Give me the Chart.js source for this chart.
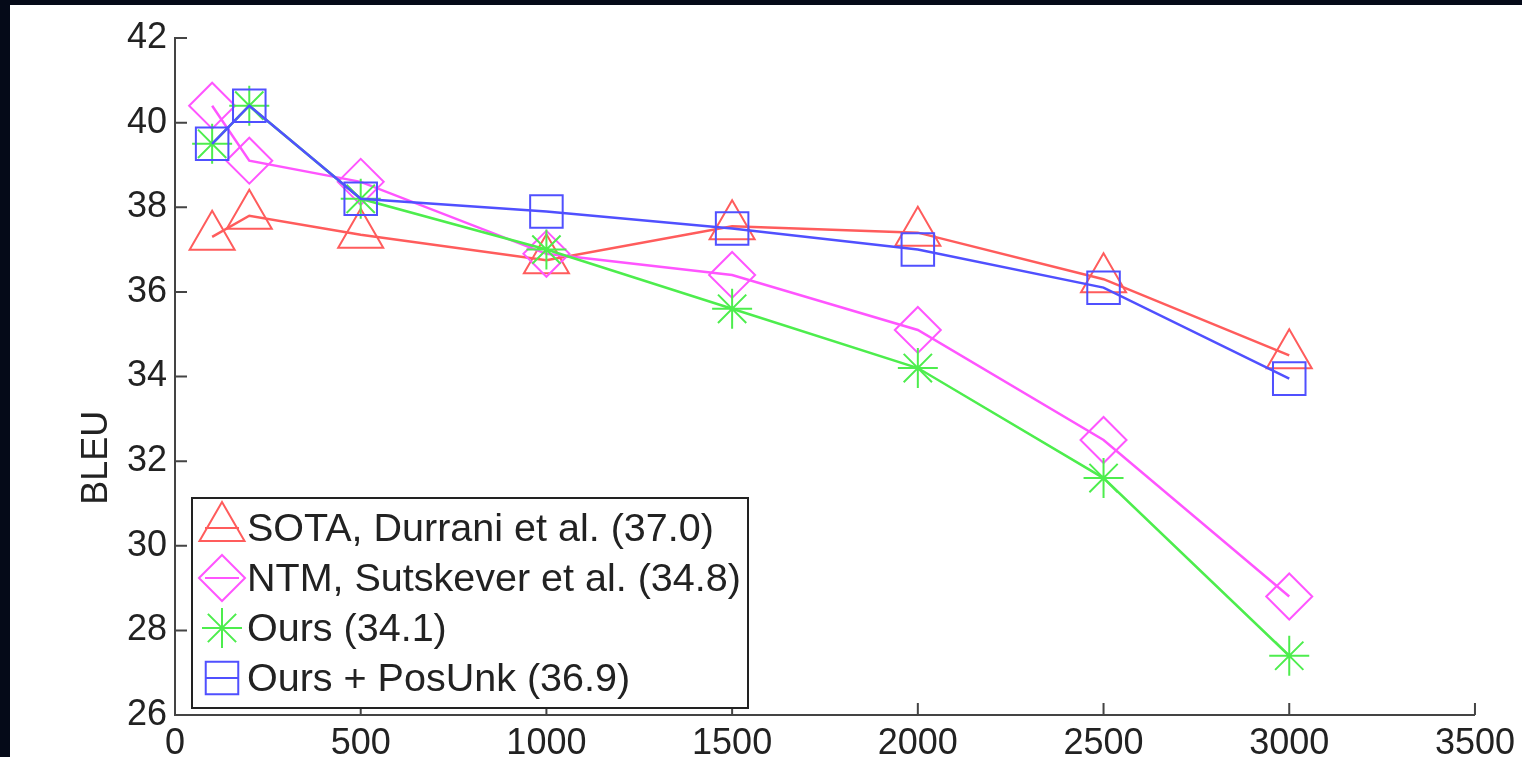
<!DOCTYPE html>
<html lang="en">
<head>
    <meta charset="UTF-8">
    <title>BLEU vs sentence length</title>
    <script src="https://cdn.jsdelivr.net/npm/chart.js"></script>
    <style>
        html, body { margin: 0; padding: 0; background: #050a18; overflow: hidden; }
        #wrap { position: absolute; left: 10px; top: 5px; width: 1512px; height: 752px; background: #fff; }
    </style>
</head>
<body>
    <div id="wrap"><canvas id="bleuChart" width="1512" height="752"></canvas></div>

    <script>
        // values
        const steps = [100, 200, 500, 1000, 1500, 2000, 2500, 3000];
        const sotaBleu = [37.3, 37.8, 37.35, 36.75, 37.55, 37.4, 36.3, 34.5];
        const ntmBleu = [40.4, 39.1, 38.6, 36.9, 36.4, 35.1, 32.5, 28.8];
        const oursBleu = [39.5, 40.4, 38.2, 37.0, 35.6, 34.2, 31.6, 27.4];
        const posUnkBleu = [39.5, 40.4, 38.2, 37.9, 37.5, 37.0, 36.1, 33.95];

        const seriesLabels = [
            'SOTA, Durrani et al. (37.0)',
            'NTM, Sutskever et al. (34.8)',
            'Ours (34.1)',
            'Ours + PosUnk (36.9)'
        ];
        const xTicks = [0, 500, 1000, 1500, 2000, 2500, 3000, 3500];
        const yTicks = [26, 28, 30, 32, 34, 36, 38, 40, 42];

        const FONT = '"Liberation Sans", Arial, sans-serif';
        Chart.defaults.font.family = FONT;

        function points(ys) {
            return steps.map((x, i) => ({ x: x, y: ys[i] }));
        }

        function series(i, ys, color, style, radius, order) {
            return {
                label: seriesLabels[i],
                data: points(ys),
                borderColor: color,
                borderWidth: 2.5,
                pointStyle: style,
                pointRadius: radius,
                pointHoverRadius: radius,
                pointBorderWidth: 2,
                pointBorderColor: color,
                pointBackgroundColor: 'rgba(0,0,0,0)',
                tension: 0,
                fill: false,
                order: order
            };
        }

        const datasets = [
            series(0, sotaBleu, '#ff5c5c', 'triangle', 26, 3),
            series(1, ntmBleu, '#ff55ff', 'rectRot', 23, 2),
            series(2, oursBleu, '#4ded4d', 'star', 20, 1),
            series(3, posUnkBleu, '#5050ff', 'rect', 23, 0)
        ];

        // inward tick marks, y label and boxed legend inside the plot
        const decorations = {
            id: 'decorations',
            afterDraw(chart) {
                const ctx = chart.ctx;
                const ca = chart.chartArea;
                const xs = chart.scales.x, ys = chart.scales.y;
                ctx.save();
                ctx.strokeStyle = '#444';
                ctx.lineWidth = 2;
                ctx.beginPath();
                xTicks.forEach(v => {
                    const px = xs.getPixelForValue(v);
                    ctx.moveTo(px, ca.bottom);
                    ctx.lineTo(px, ca.bottom - 12);
                });
                yTicks.forEach(v => {
                    const py = ys.getPixelForValue(v);
                    ctx.moveTo(ca.left, py);
                    ctx.lineTo(ca.left + 12, py);
                });
                ctx.stroke();

                // y axis title
                ctx.fillStyle = '#222';
                ctx.font = '36px ' + FONT;
                ctx.textAlign = 'center';
                ctx.textBaseline = 'middle';
                ctx.translate(87, ca.top + 0.62 * (ca.bottom - ca.top));
                ctx.rotate(-Math.PI / 2);
                ctx.fillText('BLEU', 0, 0);
                ctx.restore();

                // legend
                const bx = ca.left + 17, bw = 556, bh = 210;
                const by = ca.bottom - 7 - bh;
                ctx.save();
                ctx.fillStyle = '#fff';
                ctx.fillRect(bx, by, bw, bh);
                ctx.strokeStyle = '#222';
                ctx.lineWidth = 2;
                ctx.strokeRect(bx, by, bw, bh);
                ctx.font = '39.5px ' + FONT;
                ctx.textBaseline = 'middle';
                ctx.textAlign = 'left';
                chart.data.datasets.forEach((ds, i) => {
                    const cy = by + 30 + i * 50;
                    const mx = bx + 30;
                    ctx.strokeStyle = ds.borderColor;
                    ctx.lineWidth = 2;
                    ctx.beginPath();
                    ctx.moveTo(mx - 17, cy);
                    ctx.lineTo(mx + 17, cy);
                    ctx.stroke();
                    ctx.fillStyle = 'rgba(0,0,0,0)';
                    Chart.helpers.drawPoint(ctx, {
                        pointStyle: ds.pointStyle,
                        radius: ds.pointRadius,
                        rotation: 0,
                        borderWidth: 2
                    }, mx, cy);
                    ctx.fillStyle = '#222';
                    ctx.fillText(ds.label, bx + 55, cy + 2);
                });
                ctx.restore();
            }
        };

        new Chart(document.getElementById('bleuChart').getContext('2d'), {
            type: 'line',
            data: { datasets: datasets },
            options: {
                responsive: false,
                animation: false,
                layout: { padding: { top: 33, right: 44, left: 0, bottom: 0 } },
                plugins: {
                    legend: { display: false },
                    tooltip: { enabled: false }
                },
                scales: {
                    x: {
                        type: 'linear',
                        min: 0,
                        max: 3500,
                        afterBuildTicks: s => { s.ticks = xTicks.map(v => ({ value: v })); },
                        afterFit: s => { s.height = 42; },
                        grid: { display: false, drawTicks: false },
                        border: { display: true, color: '#444', width: 2 },
                        ticks: {
                            font: { size: 36 }, color: '#222', padding: 7, maxRotation: 0,
                            callback: v => String(v)
                        }
                    },
                    y: {
                        min: 26,
                        max: 42,
                        afterBuildTicks: s => { s.ticks = yTicks.map(v => ({ value: v })); },
                        afterFit: s => { s.width = 165; },
                        grid: { display: false, drawTicks: false },
                        border: { display: true, color: '#444', width: 2 },
                        ticks: { font: { size: 36 }, color: '#222', padding: 8, callback: v => String(v) }
                    }
                }
            },
            plugins: [decorations]
        });
    </script>
</body>
</html>
